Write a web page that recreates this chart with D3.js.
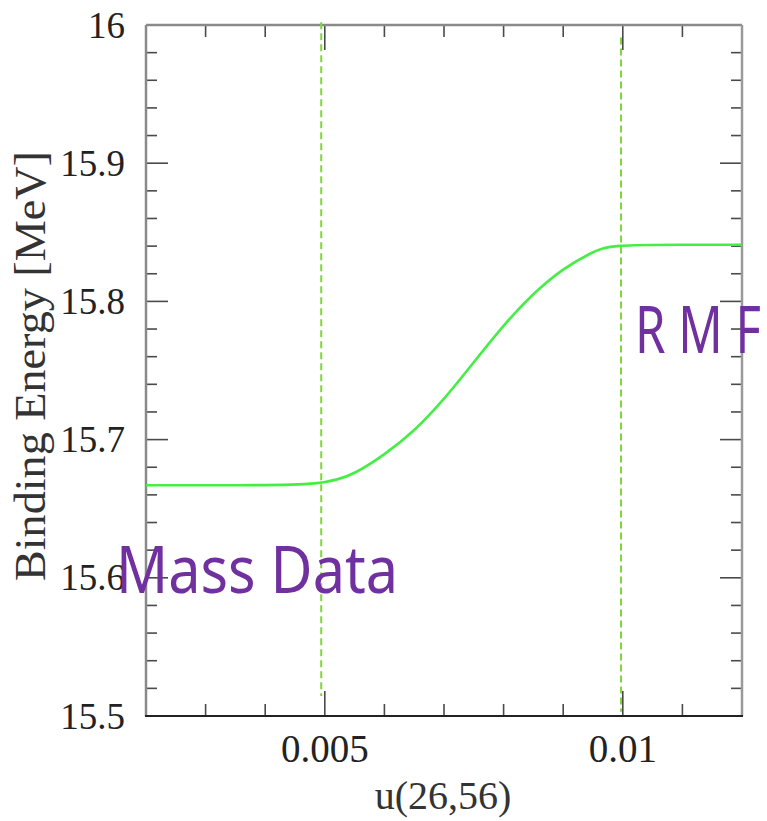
<!DOCTYPE html>
<html>
<head>
<meta charset="utf-8">
<script src="https://cdn.jsdelivr.net/npm/d3@7"></script>
<style>
  html, body { margin: 0; padding: 0; background: #fff; }
  svg { display: block; }
</style>
</head>
<body>
<svg id="chart" width="767" height="821"></svg>
<script>
// Binding energy per nucleon of 56Fe vs. the coupling u(26,56)
const uValues  = [0.002, 0.0035, 0.005, 0.0055, 0.006, 0.0065, 0.007, 0.0075, 0.008, 0.0085, 0.009, 0.0095, 0.0098, 0.011, 0.012];
const beValues = [15.667, 15.667, 15.667, 15.675, 15.689, 15.706, 15.729, 15.756, 15.783, 15.806, 15.824, 15.836, 15.841, 15.841, 15.841];

// Reference lines marking the two fixed points (u, lower BE, upper BE)
const guideU     = [0.00494, 0.00997];
const guideLow   = [15.5145, 15.503];
const guideHigh  = [16.002, 15.991];

const xTickLabels = ["0.005", "0.01"];
const yTickLabels = ["15.5", "15.6", "15.7", "15.8", "15.9", "16"];

const annotations = ["Mass Data", "R M F"];

const svg = d3.select("#chart");
const W = 767, H = 821;
const margin = { left: 146, top: 25, right: W - 742, bottom: H - 716 };
const x0 = margin.left, x1 = W - margin.right, y0 = margin.top, y1 = H - margin.bottom;

const x = d3.scaleLinear().domain([0.002, 0.012]).range([x0, x1]);
const y = d3.scaleLinear().domain([15.5, 16]).range([y1, y0]);

const serif = "'Liberation Serif', 'DejaVu Serif', serif";
const tickColor = "#4a4a4a";

// Tick positions
const xMinor = d3.range(3, 12).map(i => i / 1000);
const xMajor = xTickLabels.map(Number);
const yMinor = d3.range(0, 26).map(i => +(15.5 + i * 0.02).toFixed(2));
const yMajor = yTickLabels.map(Number);
const isMajorX = v => xMajor.some(m => Math.abs(m - v) < 1e-9);
const isMajorY = v => yMajor.some(m => Math.abs(m - v) < 1e-9);

const g = svg.append("g");

// Ticks on all four sides, pointing inward
xMinor.forEach(v => {
  const len = isMajorX(v) ? 25 : 12;
  g.append("line").attr("x1", x(v)).attr("x2", x(v)).attr("y1", y1).attr("y2", y1 - len)
    .attr("stroke", tickColor).attr("stroke-width", 1.6);
  g.append("line").attr("x1", x(v)).attr("x2", x(v)).attr("y1", y0).attr("y2", y0 + len)
    .attr("stroke", tickColor).attr("stroke-width", 1.6);
});
yMinor.forEach(v => {
  if (v === 15.5 || v === 16) return;
  const len = isMajorY(v) ? 22 : 11;
  g.append("line").attr("x1", x0).attr("x2", x0 + len).attr("y1", y(v)).attr("y2", y(v))
    .attr("stroke", tickColor).attr("stroke-width", 1.6);
  g.append("line").attr("x1", x1).attr("x2", x1 - len).attr("y1", y(v)).attr("y2", y(v))
    .attr("stroke", tickColor).attr("stroke-width", 1.6);
});

// Frame
g.append("line").attr("x1", x0).attr("x2", x1).attr("y1", y0).attr("y2", y0)
  .attr("stroke", "#8a8a8a").attr("stroke-width", 2.5);
g.append("line").attr("x1", x0).attr("x2", x0).attr("y1", y0).attr("y2", y1)
  .attr("stroke", "#8a8a8a").attr("stroke-width", 2.5);
g.append("line").attr("x1", x1).attr("x2", x1).attr("y1", y0).attr("y2", y1)
  .attr("stroke", "#9a9a9a").attr("stroke-width", 2.5);
g.append("line").attr("x1", x0 - 1).attr("x2", x1 + 1).attr("y1", y1).attr("y2", y1)
  .attr("stroke", "#222").attr("stroke-width", 2.2);

// Tick labels
g.selectAll("text.xt").data(xTickLabels).enter().append("text")
  .attr("class", "xt")
  .attr("x", d => x(+d)).attr("y", 762)
  .attr("text-anchor", "middle")
  .attr("font-family", serif).attr("font-size", 39).attr("fill", "#222")
  .text(d => d);

g.selectAll("text.yt").data(yTickLabels).enter().append("text")
  .attr("class", "yt")
  .attr("x", 125).attr("y", d => y(+d))
  .attr("dy", "0.34em")
  .attr("text-anchor", "end")
  .attr("font-family", serif).attr("font-size", 37).attr("fill", "#222")
  .text(d => d);

// Axis titles
g.append("text")
  .attr("x", 443).attr("y", 809)
  .attr("text-anchor", "middle")
  .attr("font-family", serif).attr("font-size", 40).attr("fill", "#333")
  .text("u(26,56)");

g.append("text")
  .attr("transform", "translate(45,366) rotate(-90)")
  .attr("text-anchor", "middle")
  .attr("font-family", serif).attr("font-size", 44).attr("fill", "#333")
  .attr("textLength", 430).attr("lengthAdjust", "spacingAndGlyphs")
  .text("Binding Energy [MeV]");

// Dashed guides
guideU.forEach((u, i) => {
  g.append("line")
    .attr("x1", x(u)).attr("x2", x(u))
    .attr("y1", y(guideHigh[i])).attr("y2", y(guideLow[i]))
    .attr("stroke", "#7fd63a").attr("stroke-width", 2)
    .attr("stroke-dasharray", "7,4");
});

// Binding energy curve
const pts = uValues.map((u, i) => [u, beValues[i]]);
const line = d3.line().x(d => x(d[0])).y(d => y(d[1])).curve(d3.curveBasis);
g.append("path").datum(pts)
  .attr("d", line)
  .attr("fill", "none")
  .attr("stroke", "#45ee45").attr("stroke-width", 2.6);

// Annotations
const sans = "'Noto Sans', 'Open Sans', sans-serif";
g.append("text")
  .attr("x", 116).attr("y", 593)
  .attr("font-family", sans).attr("font-size", 66).attr("fill", "#7030a0")
  .attr("textLength", 282).attr("lengthAdjust", "spacingAndGlyphs")
  .text(annotations[0]);
g.append("text")
  .attr("x", 635).attr("y", 353)
  .attr("font-family", sans).attr("font-size", 66).attr("fill", "#7030a0")
  .attr("textLength", 126).attr("lengthAdjust", "spacingAndGlyphs")
  .text(annotations[1]);
</script>
</body>
</html>
